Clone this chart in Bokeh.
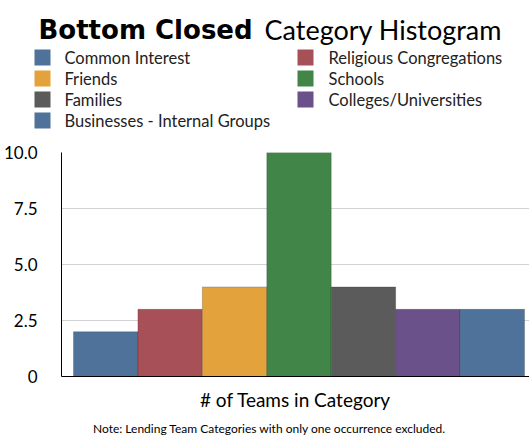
from bokeh.plotting import figure
from bokeh.models import Range1d, FixedTicker
from bokeh.layouts import column
from bokeh.core.properties import value
from bokeh.embed import file_html
from bokeh.resources import INLINE

# ---- data ----
categories = ["Common Interest", "Religious Congregations", "Friends", "Schools",
              "Families", "Colleges/Universities", "Businesses - Internal Groups"]
counts = [2, 3, 4, 10, 4, 3, 3]
colors = ["#4E7299", "#A85058", "#E3A23B", "#418548", "#5B5B5B", "#6A5189", "#4E7299"]
y_ticks = [0, 2.5, 5.0, 7.5, 10.0]
y_tick_labels = ["0", "2.5", "5.0", "7.5", "10.0"]
title_bold = "Bottom Closed"
title_rest = "Category Histogram"
x_label = "# of Teams in Category"
note = "Note: Lending Team Categories with only one occurrence excluded."

FONT = "Lato"
W = 529
n = len(categories)


def blank(height):
    f = figure(width=W, height=height, x_range=Range1d(0, W), y_range=Range1d(height, 0),
               output_backend="svg", toolbar_location=None, min_border=0,
               x_axis_location=None, y_axis_location=None, frame_align=False)
    f.grid.visible = False
    f.outline_line_color = None
    return f


# ---- header: title + legend ----
HH = 136
hdr = blank(HH)
hdr.text(x=[38], y=[29], text=[title_bold], text_font=value("DejaVu Sans"),
         text_font_style="bold", text_font_size="26px", text_baseline="alphabetic",
         text_color="black")
hdr.text(x=[264], y=[29], text=[title_rest], text_font=value(FONT),
         text_font_size="27px", text_baseline="alphabetic", text_color="black")

col_sq_x = [42, 305]
col_tx_x = [64, 328]
row_y = [57, 78, 99, 120]
lx, ly, tx = [], [], []
for i in range(n):
    r, c = divmod(i, 2)
    lx.append(col_sq_x[c])
    ly.append(row_y[r])
    tx.append(col_tx_x[c])
hdr.rect(x=lx, y=ly, width=16, height=16, fill_color=colors, line_color=None)
hdr.text(x=tx, y=ly, text=categories, text_font=value(FONT), text_font_size="16.5px",
         text_baseline="middle", text_color="#222222")

# ---- chart ----
xs = list(range(n))
p = figure(width=W, height=280, x_range=Range1d(-0.686, n - 1 + 0.577),
           y_range=Range1d(0, 10), output_backend="svg", toolbar_location=None,
           min_border_left=60, min_border_right=0, min_border_top=16, min_border_bottom=40,
           frame_align=False)
p.vbar(x=xs, top=counts, width=1.0, bottom=0, fill_color=colors,
       line_color="#00000030", line_width=1)
p.outline_line_color = None
p.xgrid.visible = False
p.ygrid.grid_line_color = "#d2d2d2"
p.ygrid.ticker = FixedTicker(ticks=y_ticks)

p.yaxis.ticker = FixedTicker(ticks=y_ticks)
p.yaxis.major_label_overrides = {t: l for t, l in zip(y_ticks, y_tick_labels)}
p.yaxis.major_tick_line_color = None
p.yaxis.minor_tick_line_color = None
p.yaxis.major_label_standoff = 18
p.yaxis.major_label_text_font = FONT
p.yaxis.major_label_text_font_size = "17px"
p.yaxis.major_label_text_color = "black"
p.yaxis.axis_line_color = "black"

p.xaxis.ticker = FixedTicker(ticks=[])
p.xaxis.major_tick_line_color = None
p.xaxis.minor_tick_line_color = None
p.xaxis.axis_line_color = "black"
p.xaxis.axis_label = x_label
p.xaxis.axis_label_text_font = FONT
p.xaxis.axis_label_text_font_style = "normal"
p.xaxis.axis_label_text_font_size = "19px"
p.xaxis.axis_label_text_color = "black"
p.xaxis.axis_label_standoff = 11

# ---- footer: note ----
FH = 24
ftr = blank(FH)
ftr.text(x=[269], y=[12], text=[note], text_font=value(FONT), text_font_size="12px",
         text_align="center", text_baseline="middle", text_color="black")

layout = column(hdr, p, ftr, spacing=0)
open("out.html", "w").write(file_html(layout, INLINE))
